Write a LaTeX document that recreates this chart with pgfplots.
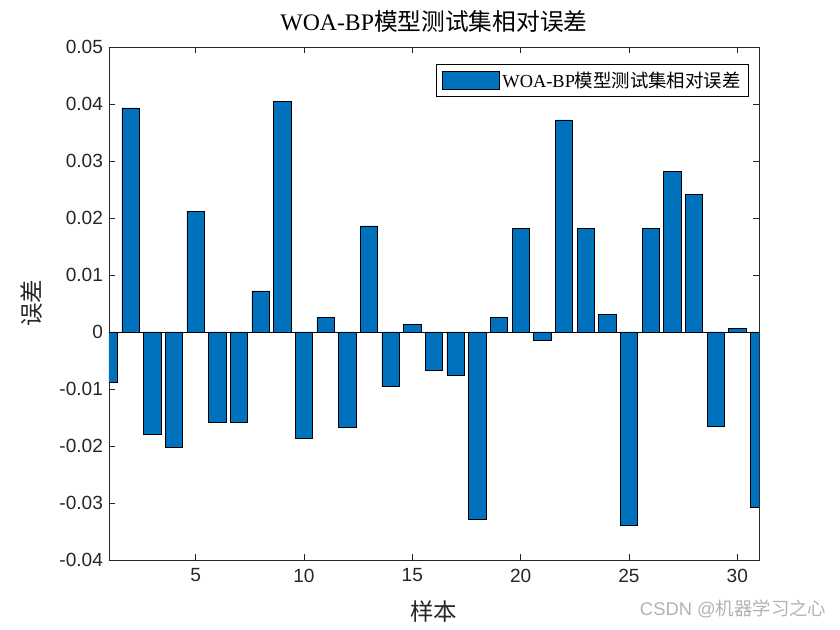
\documentclass[border=0pt]{standalone}
\usepackage{pgfplots}
\pgfplotsset{compat=1.18}
\usepackage{fontspec}
\setmainfont{Liberation Sans}
\newfontfamily\serif{Liberation Serif}
\newfontfamily\cjk{Noto Sans CJK SC}
\definecolor{matblue}{rgb}{0,0.447,0.741}
\definecolor{axgray}{rgb}{0.15,0.15,0.15}
\begin{document}
\begin{tikzpicture}
\useasboundingbox (-81.75pt,-52.5pt) rectangle (548.25pt,420pt);
\begin{axis}[
  at={(0,0)}, anchor=south west,
  scale only axis, width=487.5pt, height=384.75pt,
  xmin=1, xmax=31, ymin=-0.04, ymax=0.05,
  ybar, bar width=0.8,
  scaled y ticks=false,
  xtick={5,10,15,20,25,30},
  ytick={-0.04,-0.03,-0.02,-0.01,0,0.01,0.02,0.03,0.04,0.05},
  yticklabels={-0.04,-0.03,-0.02,-0.01,0,0.01,0.02,0.03,0.04,0.05},
  /pgf/number format/assume math mode=true,
  tick label style={font=\fontsize{14.3}{16}\selectfont, color=axgray},
  xticklabel style={yshift=-3pt},
  yticklabel style={xshift=-1pt},
  axis line style={color=axgray, line width=0.6pt},
  major tick style={color=axgray, line width=0.6pt},
  major tick length=4.5pt,
  tick align=inside,
  title={\serif WOA-BP\cjk 模型测试集相对误差},
  title style={font=\fontsize{17.8}{20}\selectfont, at={(0.5,1)}, anchor=south, yshift=1pt},
  xlabel={\cjk 样本},
  ylabel={\cjk 误差},
  label style={font=\fontsize{17.6}{20}\selectfont, color=axgray},
  xlabel style={at={(axis description cs:0.5,-0.1)}, anchor=center},
  ylabel style={at={(axis description cs:-0.1185,0.5)}, anchor=center},
  legend style={at={(0.9846,0.9669)}, anchor=north east, draw=black, line width=0.6pt,
    font=\fontsize{13.8}{15}\selectfont, inner xsep=4pt, inner ysep=3.5pt},
  legend image code/.code={\draw[fill=matblue, draw=black, line width=0.5pt] (0pt,-7pt) rectangle (43pt,7pt);},
  clip=true,
]
\addplot[fill=matblue, draw=black, line width=0.6pt] coordinates {
(1,-0.0089) (2,0.0393) (3,-0.0179) (4,-0.0202) (5,0.0212) (6,-0.0158) (7,-0.0158)
(8,0.0072) (9,0.0405) (10,-0.0186) (11,0.0025) (12,-0.0167) (13,0.0186) (14,-0.0096)
(15,0.0014) (16,-0.0067) (17,-0.0077) (18,-0.0328) (19,0.0026) (20,0.0182) (21,-0.0014)
(22,0.0372) (23,0.0182) (24,0.0030) (25,-0.0339) (26,0.0182) (27,0.0281) (28,0.0242)
(29,-0.0165) (30,0.0007) (31,-0.0307)
};
\addlegendentry{\serif WOA-BP\cjk 模型测试集相对误差}
\draw[black, line width=0.6pt] (axis cs:1,0) -- (axis cs:31,0);
\end{axis}
\node[anchor=east, text=gray!60, font=\fontsize{13.8}{16}\selectfont] at (541.5pt,-36.75pt) {CSDN @\cjk 机器学习之心};
\end{tikzpicture}
\end{document}
